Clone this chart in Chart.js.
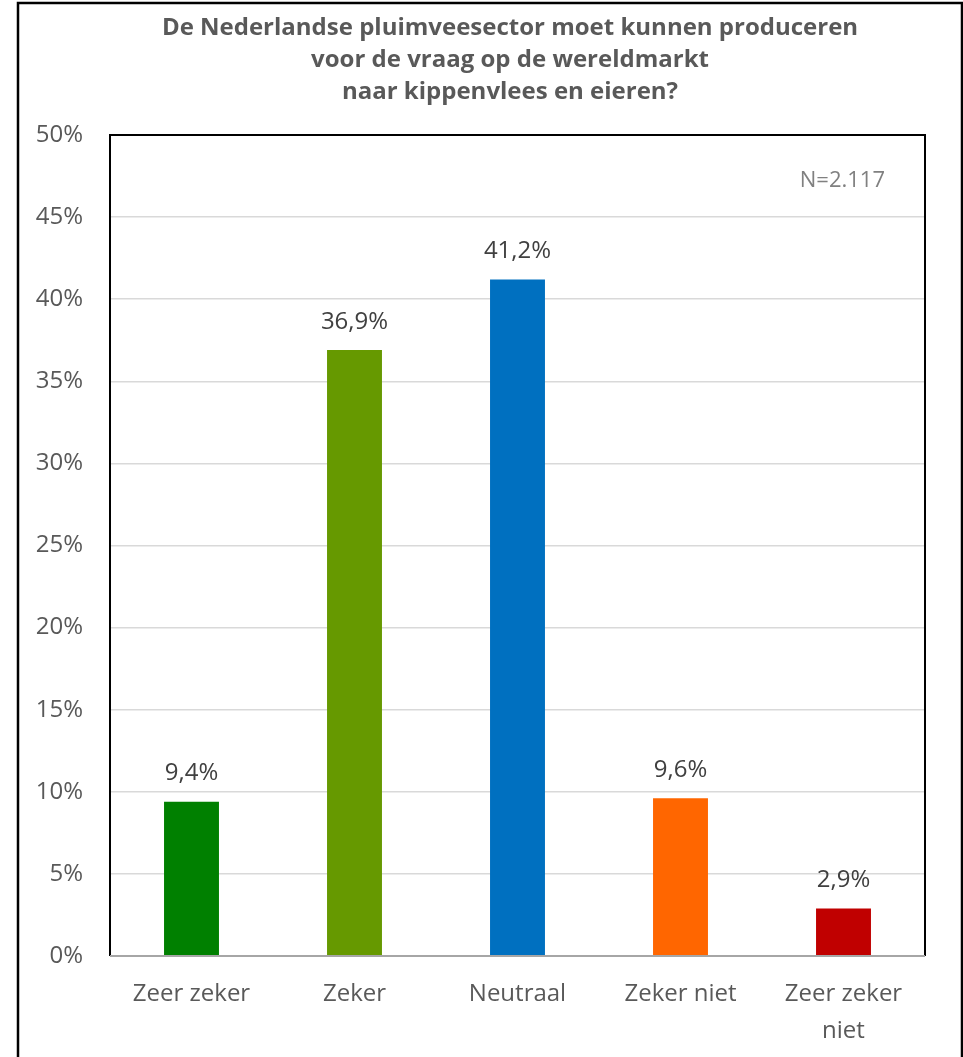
<!DOCTYPE html>
<html>
<head>
<meta charset="utf-8">
<script src="https://cdn.jsdelivr.net/npm/chart.js@4/dist/chart.umd.min.js"></script>
<style>
  body { margin: 0; background: #fff; }
  #wrap { width: 963px; height: 1057px; position: relative; }
</style>
</head>
<body>
<div id="wrap"><canvas id="pluimveeChart"></canvas></div>
<script>
// ----------------- Data -------------------------//
const categories = ['Zeer zeker', 'Zeker', 'Neutraal', 'Zeker niet', ['Zeer zeker', 'niet']];
const values = [9.4, 36.9, 41.2, 9.6, 2.9];
const barColors = ['#008000', '#669900', '#0070C0', '#FF6600', '#C00000'];
const titleLines = [
    'De Nederlandse pluimveesector moet kunnen produceren',
    'voor de vraag op de wereldmarkt',
    'naar kippenvlees en eieren?'
];
const sampleNote = 'N=2.117';
const yMin = 0, yMax = 50, yStep = 5;

const fontFam = "'Open Sans', 'Noto Sans', sans-serif";

// plugin : titre, cadre, labels des valeurs, N=...
const decorPlugin = {
    id: 'decor',
    afterDatasetsDraw(chart) {
        const ctx = chart.ctx;
        const area = chart.chartArea;
        const meta = chart.getDatasetMeta(0);
        ctx.save();
        // titre (centré au-dessus de la zone du graphique)
        ctx.font = 'bold 24px ' + fontFam;
        ctx.fillStyle = '#595959';
        ctx.textAlign = 'center';
        ctx.textBaseline = 'middle';
        titleLines.forEach((line, i) => {
            ctx.fillText(line, 510, 28 + i * 32);
        });
        // labels au-dessus des barres
        ctx.font = '24px ' + fontFam;
        ctx.fillStyle = '#404040';
        meta.data.forEach((bar, i) => {
            const txt = values[i].toFixed(1).replace('.', ',') + '%';
            ctx.fillText(txt, bar.x, bar.y - 28);
        });
        // N=2.117
        ctx.font = '22px ' + fontFam;
        ctx.fillStyle = '#808080';
        ctx.textAlign = 'right';
        ctx.fillText(sampleNote, area.right - 40, area.top + 46);
        // cadre du graphique
        ctx.lineWidth = 2;
        ctx.strokeStyle = '#000';
        ctx.beginPath();
        ctx.moveTo(area.left, area.bottom);
        ctx.lineTo(area.left, area.top);
        ctx.lineTo(area.right, area.top);
        ctx.lineTo(area.right, area.bottom);
        ctx.stroke();
        ctx.strokeStyle = '#a6a6a6';
        ctx.beginPath();
        ctx.moveTo(area.left, area.bottom);
        ctx.lineTo(area.right, area.bottom);
        ctx.stroke();
        // bordure extérieure
        ctx.strokeStyle = '#000';
        ctx.lineWidth = 2.5;
        ctx.beginPath();
        ctx.moveTo(18, chart.height);
        ctx.lineTo(18, 3);
        ctx.lineTo(962, 3);
        ctx.lineTo(962, chart.height);
        ctx.stroke();
        ctx.restore();
    }
};

const ctx = document.getElementById('pluimveeChart').getContext('2d');
new Chart(ctx, {
    type: 'bar',
    data: {
        labels: categories,
        datasets: [{
            data: values,
            backgroundColor: barColors,
            borderWidth: 0,
            categoryPercentage: 1,
            barPercentage: 0.337
        }]
    },
    options: {
        responsive: true,
        maintainAspectRatio: false,
        animation: false,
        layout: {
            padding: { left: 20, right: 38, top: 135, bottom: 0 }
        },
        plugins: {
            legend: { display: false },
            tooltip: { enabled: false },
            title: { display: false }
        },
        scales: {
            x: {
                grid: { display: false, drawTicks: false },
                border: { display: false },
                ticks: {
                    color: '#595959',
                    font: { family: fontFam, size: 24, lineHeight: '37px' },
                    padding: 20,
                    maxRotation: 0,
                    autoSkip: false
                },
                afterFit: function (scale) { scale.height = 101; }
            },
            y: {
                min: yMin,
                max: yMax,
                grid: { color: '#d9d9d9', lineWidth: 1.5, drawTicks: false },
                border: { display: false },
                ticks: {
                    stepSize: yStep,
                    color: '#595959',
                    font: { family: fontFam, size: 24 },
                    padding: 27,
                    callback: function (v) { return v + '%'; }
                },
                afterFit: function (scale) { scale.width = 90; }
            }
        }
    },
    plugins: [decorPlugin]
});
</script>
</body>
</html>
